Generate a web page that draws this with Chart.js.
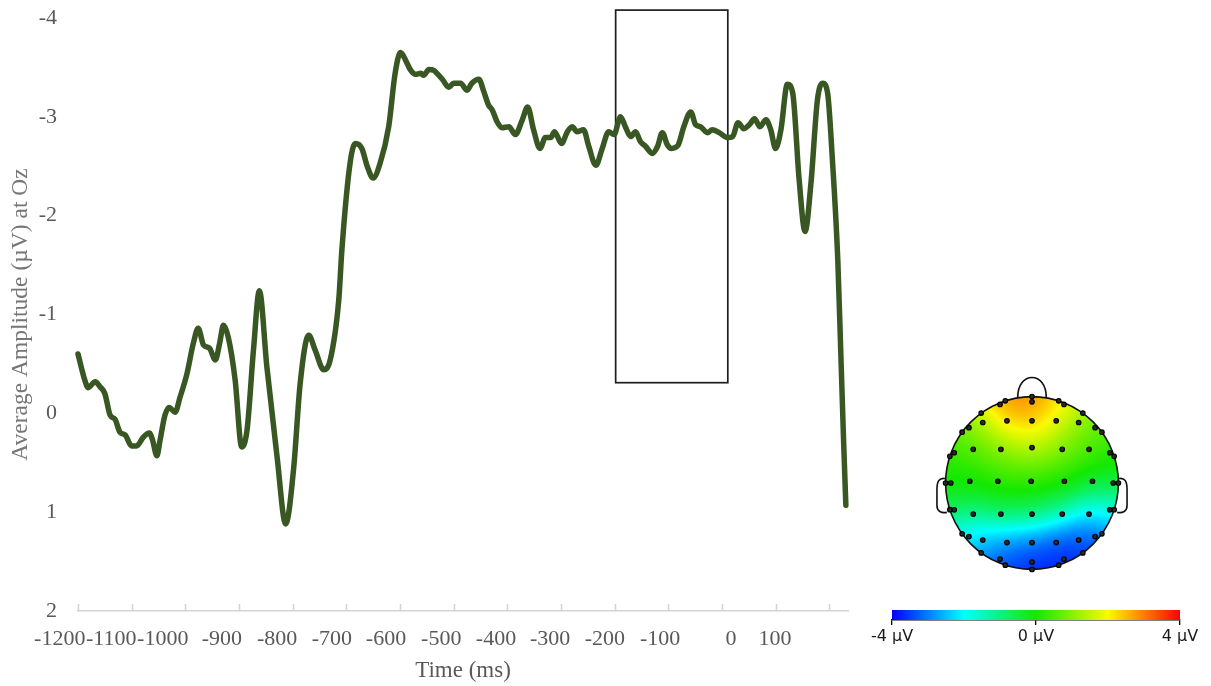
<!DOCTYPE html>
<html>
<head>
<meta charset="utf-8">
<title>Average amplitude at Oz</title>
<script src="https://cdn.jsdelivr.net/npm/chart.js@4.4.1/dist/chart.umd.min.js"></script>
<style>
  html, body { margin: 0; padding: 0; background: #ffffff; }
  #stage { position: relative; width: 1211px; height: 686px; overflow: hidden; background: #ffffff; }
  #stage canvas { position: absolute; }
  #erp { left: 0; top: 0; }
  #topo { left: 924px; top: 375px; }
  #cbar { left: 860px; top: 600px; }
</style>
</head>
<body>
<div id="stage">
  <canvas id="erp" width="1211" height="686"></canvas>
  <canvas id="topo" width="216" height="216"></canvas>
  <canvas id="cbar" width="351" height="50"></canvas>
</div>
<script>
// ---- ERP waveform at Oz (time in ms, amplitude in µV) ----
const timeMs = [
  -1200, -1187, -1181, -1168, -1159, -1150, -1140, -1131, -1122, -1112,
  -1100, -1091, -1078, -1067, -1061, -1053, -1047, -1038, -1030, -1019,
  -1010, -997, -985, -976, -966, -955, -944, -936, -929, -920,
  -907, -895, -885, -873, -862, -848, -829, -813, -798, -786,
  -770, -758, -742, -730, -714, -708, -693, -683, -671, -661,
  -650, -637, -621, -609, -599, -590, -581, -571, -561, -556,
  -546, -537, -531, -521, -509, -500, -487, -475, -466, -453,
  -444, -435, -428, -419, -410, -397, -385, -372, -362, -351,
  -339, -329, -319, -312, -299, -288, -279, -270, -258, -248,
  -235, -223, -211, -201, -189, -180, -170, -161, -152, -142,
  -130, -120, -111, -102, -94, -82, -71, -58, -49, -40,
  -27, -18, -5, 11, 20, 30, 41, 51, 61, 71,
  82, 91, 100, 110, 122, 132, 144, 155, 166, 178,
  188, 197, 206, 216, 222, 227, 231
];
const amplitudeUv = [
  -0.60, -0.33, -0.26, -0.32, -0.27, -0.20, 0.02, 0.06, 0.19, 0.22,
  0.33, 0.33, 0.24, 0.20, 0.27, 0.43, 0.27, 0.02, -0.06, -0.01,
  -0.16, -0.40, -0.71, -0.86, -0.69, -0.66, -0.54, -0.71, -0.89, -0.77,
  -0.33, 0.34, 0.17, -0.64, -1.24, -0.47, 0.44, 1.12, 0.55, -0.30,
  -0.79, -0.64, -0.44, -0.54, -1.15, -1.67, -2.53, -2.73, -2.68, -2.50,
  -2.38, -2.53, -2.90, -3.44, -3.65, -3.58, -3.48, -3.43, -3.44, -3.42,
  -3.48, -3.47, -3.44, -3.38, -3.30, -3.34, -3.34, -3.27, -3.34, -3.38,
  -3.26, -3.12, -3.07, -2.95, -2.89, -2.90, -2.82, -2.97, -3.10, -2.87,
  -2.68, -2.79, -2.79, -2.85, -2.73, -2.85, -2.90, -2.85, -2.87, -2.70,
  -2.51, -2.68, -2.85, -2.82, -3.00, -2.90, -2.80, -2.85, -2.75, -2.70,
  -2.63, -2.70, -2.84, -2.72, -2.68, -2.71, -2.90, -3.05, -2.92, -2.90,
  -2.84, -2.87, -2.84, -2.79, -2.80, -2.94, -2.88, -2.92, -2.98, -2.90,
  -2.97, -2.87, -2.68, -2.87, -3.33, -3.24, -2.36, -1.84, -2.33, -3.17,
  -3.34, -3.24, -2.56, -1.55, -0.54, 0.31, 0.93
];

// time axis: tick marks every 100 ms, labels as printed under the axis
const timeTicks = [-1200, -1100, -1000, -900, -800, -700, -600, -500, -400, -300, -200, -100, 0, 100, 200];
const timeLabels = ['-1200', '-1100', '-1000', '-900', '-800', '-700', '-600', '-500', '-400', '-300', '-200', '-100', '0', '100'];
const amplitudeTicks = [-4, -3, -2, -1, 0, 1, 2];

// analysis window shown as a rectangle (ms, µV)
const windowMs = [-198, 11];
const windowUv = [-4.08, -0.31];

// ---- scalp map: electrode positions (unit head circle, nose up) and mean amplitude (µV) ----
const electrodeX = [
  0, -0.309, 0.309, -0.588, 0.588, -0.809, 0.809, -0.951, 0.951, -1, 1,
  -0.951, 0.951, -0.809, 0.809, -0.588, 0.588, -0.309, 0.309, 0,
  0, -0.37, 0.37, -0.73, 0.73, -0.90, 0.90, -0.94, 0.94, -0.90, 0.90, -0.73, 0.73, -0.37, 0.37, 0,
  -0.57, -0.29, 0, 0.28, 0.54,
  -0.68, -0.36, 0, 0.35, 0.66,
  -0.72, -0.395, -0.01, 0.375, 0.70,
  -0.68, -0.36, 0, 0.35, 0.66,
  -0.57, -0.29, 0, 0.28, 0.54
];
const electrodeY = [
  1, 0.951, 0.951, 0.809, 0.809, 0.588, 0.588, 0.309, 0.309, 0, 0,
  -0.309, -0.309, -0.588, -0.588, -0.809, -0.809, -0.951, -0.951, -1,
  0.94, 0.91, 0.91, 0.64, 0.64, 0.35, 0.35, 0, 0, -0.31, -0.31, -0.62, -0.62, -0.88, -0.88, -0.915,
  0.70, 0.72, 0.72, 0.72, 0.70,
  0.39, 0.39, 0.41, 0.39, 0.39,
  0.02, 0.02, 0.02, 0.02, 0.02,
  -0.36, -0.36, -0.36, -0.36, -0.36,
  -0.66, -0.69, -0.69, -0.69, -0.66
];
const electrodeUv = [
  3.1, 3.2, 2.4, 1.8, 1.2, 0.6, 0.5, 0.2, 0.1, 0.0, -0.5,
  -0.8, -1.9, -2.4, -3.4, -3.4, -3.8, -3.8, -3.9, -3.9,
  2.8, 2.8, 2.1, 1.1, 0.8, 0.3, 0.2, 0.0, -0.4, -0.7, -1.7, -2.2, -3.2, -3.3, -3.7, -3.7,
  1.1, 1.9, 2.3, 1.7, 0.9,
  0.5, 1.0, 1.3, 0.9, 0.4,
  0.0, 0.2, 0.3, 0.1, -0.3,
  -0.6, -0.5, -0.7, -1.0, -1.7,
  -2.0, -2.4, -2.7, -3.1, -3.4
];
const colorbarTicks = [-4, 0, 4];

// jet-like colour map on [-4, 4] µV
const cmapStops = [
  [0.00, [0, 0, 255]],
  [0.25, [0, 255, 255]],
  [0.50, [20, 232, 0]],
  [0.75, [250, 250, 0]],
  [1.00, [255, 0, 0]]
];
function cmap(f) {
  f = Math.max(0, Math.min(1, f));
  for (let i = 1; i < cmapStops.length; i++) {
    const [f1, c1] = cmapStops[i];
    if (f <= f1) {
      const [f0, c0] = cmapStops[i - 1];
      const t = (f - f0) / (f1 - f0);
      return c0.map((v, k) => Math.round(v + (c1[k] - v) * t));
    }
  }
  return cmapStops[cmapStops.length - 1][1];
}

const serif = 'Liberation Serif, Times New Roman, serif';
const axisGray = '#595959';

// short tick marks pointing up from the time axis
const innerTicks = {
  id: 'innerTicks',
  afterDraw(chart) {
    const x = chart.scales.x;
    const bottom = chart.chartArea.bottom;
    const ctx = chart.ctx;
    ctx.save();
    ctx.strokeStyle = '#d4d4d4';
    ctx.lineWidth = 1.5;
    ctx.beginPath();
    x.ticks.forEach(t => {
      const px = Math.round(x.getPixelForValue(t.value)) + 0.5;
      ctx.moveTo(px, bottom);
      ctx.lineTo(px, bottom - 7);
    });
    ctx.stroke();
    ctx.restore();
  }
};

// rectangle around the analysis window
const windowBox = {
  id: 'windowBox',
  beforeDatasetsDraw(chart) {
    const {x, y} = chart.scales;
    const ctx = chart.ctx;
    const l = x.getPixelForValue(windowMs[0]);
    const r = x.getPixelForValue(windowMs[1]);
    const t = y.getPixelForValue(windowUv[0]);
    const b = y.getPixelForValue(windowUv[1]);
    ctx.save();
    ctx.strokeStyle = '#1e1e1e';
    ctx.lineWidth = 1.7;
    ctx.strokeRect(l, t, r - l, b - t);
    ctx.restore();
  }
};

new Chart(document.getElementById('erp'), {
  type: 'line',
  data: {
    datasets: [{
      data: timeMs.map((t, i) => ({x: t, y: amplitudeUv[i]})),
      borderColor: '#385723',
      borderWidth: 5.5,
      pointRadius: 0,
      cubicInterpolationMode: 'monotone',
      borderCapStyle: 'round',
      borderJoinStyle: 'round',
      clip: false,
      fill: false
    }]
  },
  options: {
    responsive: false,
    animation: false,
    events: [],
    layout: {padding: {top: 18, right: 363, bottom: 0, left: 0}},
    plugins: {legend: {display: false}, tooltip: {enabled: false}},
    scales: {
      x: {
        type: 'linear',
        position: 'bottom',
        min: -1200,
        max: 235,
        afterBuildTicks: s => { s.ticks = timeTicks.map(v => ({value: v})); },
        ticks: {display: false},
        grid: {display: false, drawTicks: false},
        border: {display: true, color: '#d4d4d4', width: 1.5},
        afterFit: s => { s.height = 0; }
      },
      xt: {
        type: 'linear',
        position: 'bottom',
        min: -1200,
        max: 235,
        afterBuildTicks: s => {
          // label anchors (ms) as printed along the axis
          const anchors = [-1234, -1138, -1042, -932, -829, -727, -626, -523, -421, -320, -218, -115, 17, 99];
          s.ticks = anchors.map(v => ({value: v}));
        },
        ticks: {
          autoSkip: false,
          maxRotation: 0,
          minRotation: 0,
          padding: 15,
          color: axisGray,
          font: {family: serif, size: 22},
          callback: (v, i) => timeLabels[i]
        },
        grid: {display: false, drawTicks: false},
        border: {display: false},
        title: {
          display: true,
          text: 'Time (ms)',
          color: axisGray,
          font: {family: serif, size: 23},
          padding: {top: 0, bottom: 1}
        },
        afterFit: s => { s.height = 75; s.paddingLeft = 0; s.paddingRight = 0; }
      },
      y: {
        type: 'linear',
        reverse: true,
        min: -4,
        max: 2,
        afterBuildTicks: s => { s.ticks = amplitudeTicks.map(v => ({value: v})); },
        ticks: {
          color: axisGray,
          font: {family: serif, size: 22},
          padding: 21
        },
        grid: {display: false, drawTicks: false},
        border: {display: false},
        title: {
          display: true,
          text: 'Average Amplitude (µV) at Oz',
          color: '#767676',
          font: {family: serif, size: 23.5},
          padding: {top: 7, bottom: 0}
        },
        afterFit: s => { s.width = 78; s.paddingTop = 0; s.paddingBottom = 0; }
      }
    }
  },
  plugins: [windowBox, innerTicks]
});

// interpolated scalp field, head outline, nose and ears
const scalpField = {
  id: 'scalpField',
  beforeDatasetsDraw(chart) {
    const {ctx, scales: {x, y}} = chart;
    const cx = x.getPixelForValue(0), cy = y.getPixelForValue(0);
    const rx = x.getPixelForValue(1) - cx, ry = cy - y.getPixelForValue(1);
    if (!this.field) {
      const off = document.createElement('canvas');
      off.width = chart.width;
      off.height = chart.height;
      const octx = off.getContext('2d');
      const img = octx.createImageData(off.width, off.height);
      const s2 = 2 * 0.2 * 0.2;
      for (let py = 0; py < off.height; py++) {
        for (let px = 0; px < off.width; px++) {
          const vx = x.getValueForPixel(px + 0.5);
          const vy = y.getValueForPixel(py + 0.5);
          if (vx * vx + vy * vy > 1.08) continue;
          let sw = 0, sv = 0;
          for (let k = 0; k < electrodeUv.length; k++) {
            const dx = vx - electrodeX[k], dy = vy - electrodeY[k];
            const w = Math.exp(-(dx * dx + dy * dy) / s2);
            sw += w;
            sv += w * electrodeUv[k];
          }
          const c = cmap((sv / sw + 4) / 8);
          const o = (py * off.width + px) * 4;
          img.data[o] = c[0];
          img.data[o + 1] = c[1];
          img.data[o + 2] = c[2];
          img.data[o + 3] = 255;
        }
      }
      octx.putImageData(img, 0, 0);
      this.field = off;
    }
    ctx.save();
    ctx.beginPath();
    ctx.ellipse(cx, cy, rx, ry, 0, 0, Math.PI * 2);
    ctx.clip();
    ctx.drawImage(this.field, 0, 0);
    ctx.restore();

    const P = (u, v) => [x.getPixelForValue(u), y.getPixelForValue(v)];
    ctx.save();
    ctx.strokeStyle = '#111111';
    ctx.lineWidth = 1.6;
    ctx.beginPath();
    ctx.ellipse(cx, cy, rx, ry, 0, 0, Math.PI * 2);
    ctx.stroke();
    // nose
    ctx.beginPath();
    ctx.moveTo(...P(-0.165, 0.986));
    ctx.bezierCurveTo(...P(-0.17, 1.30), ...P(0.17, 1.30), ...P(0.165, 0.986));
    ctx.stroke();
    // ears
    [-1, 1].forEach(sd => {
      ctx.beginPath();
      ctx.moveTo(...P(sd * 0.995, 0.05));
      ctx.bezierCurveTo(...P(sd * 1.08, 0.07), ...P(sd * 1.10, 0.01), ...P(sd * 1.10, -0.07));
      ctx.lineTo(...P(sd * 1.10, -0.26));
      ctx.bezierCurveTo(...P(sd * 1.10, -0.33), ...P(sd * 1.05, -0.35), ...P(sd * 0.985, -0.34));
      ctx.stroke();
    });
    ctx.restore();
  }
};

new Chart(document.getElementById('topo'), {
  type: 'scatter',
  data: {
    datasets: [{
      data: electrodeX.map((v, i) => ({x: v, y: electrodeY[i]})),
      pointRadius: 2.3,
      pointBackgroundColor: '#2a2a2a',
      pointBorderColor: '#000000',
      pointBorderWidth: 1.1
    }]
  },
  options: {
    responsive: false,
    animation: false,
    events: [],
    layout: {padding: 0, autoPadding: false},
    plugins: {legend: {display: false}, tooltip: {enabled: false}},
    scales: {
      x: {type: 'linear', min: -1.25, max: 1.25, display: false},
      y: {type: 'linear', min: -1.25, max: 1.25, display: false}
    }
  },
  plugins: [scalpField]
});

// colour bar: one floating bar spanning the colour scale
new Chart(document.getElementById('cbar'), {
  type: 'bar',
  data: {
    labels: [''],
    datasets: [{
      data: [[colorbarTicks[0], colorbarTicks[colorbarTicks.length - 1]]],
      barPercentage: 1,
      categoryPercentage: 1,
      borderWidth: 0,
      backgroundColor: c => {
        const chart = c.chart;
        if (!chart.chartArea) return '#00e600';
        const xs = chart.scales.x;
        const g = chart.ctx.createLinearGradient(xs.getPixelForValue(-4), 0, xs.getPixelForValue(4), 0);
        cmapStops.forEach(([f, col]) => g.addColorStop(f, `rgb(${col[0]},${col[1]},${col[2]})`));
        return g;
      }
    }]
  },
  options: {
    indexAxis: 'y',
    responsive: false,
    animation: false,
    events: [],
    layout: {padding: {top: 10, right: 31, bottom: 0, left: 32}, autoPadding: false},
    plugins: {legend: {display: false}, tooltip: {enabled: false}},
    scales: {
      x: {
        type: 'linear',
        position: 'bottom',
        min: -4,
        max: 4,
        afterBuildTicks: s => { s.ticks = colorbarTicks.map(v => ({value: v})); },
        ticks: {
          autoSkip: false,
          maxRotation: 0,
          padding: 2,
          color: '#1a1a1a',
          font: {family: 'DejaVu Sans, sans-serif', size: 16},
          callback: v => v + ' µV'
        },
        grid: {display: true, drawOnChartArea: false, drawTicks: true, tickLength: 5, color: '#000000', lineWidth: 1.3},
        border: {display: true, color: '#000000', width: 1.5},
        afterFit: s => { s.height = 30; }
      },
      y: {display: false}
    }
  }
});
</script>
</body>
</html>
